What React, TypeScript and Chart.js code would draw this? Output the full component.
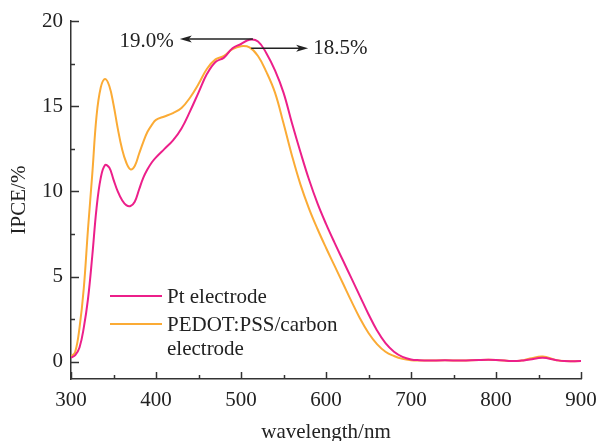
import React, { useEffect, useRef } from 'react';
import { Chart, registerables } from 'chart.js';

Chart.register(...registerables);

const wavelengths = [300, 305, 310, 315, 320, 325, 330, 335, 340, 345, 350, 355, 360, 365, 370, 375, 380, 385, 390, 395, 400, 410, 420, 430, 440, 450, 460, 470, 480, 490, 500, 510, 520, 530, 540, 550, 560, 570, 580, 590, 600, 610, 620, 630, 640, 650, 660, 670, 680, 690, 700, 710, 720, 740, 760, 780, 800, 820, 830, 840, 855, 870, 880, 900];

const ptValues = [0.25, 0.4, 0.85, 2.0, 3.7, 6.2, 9.0, 10.8, 11.55, 11.4, 10.7, 10.0, 9.5, 9.2, 9.15, 9.4, 10.1, 10.8, 11.3, 11.7, 12.0, 12.5, 13.0, 13.7, 14.7, 15.8, 16.9, 17.6, 17.85, 18.4, 18.65, 18.9, 18.8, 18.1, 17.1, 15.8, 14.0, 12.3, 10.7, 9.3, 8.1, 7.0, 5.95, 4.9, 3.85, 2.8, 1.85, 1.1, 0.6, 0.3, 0.15, 0.1, 0.08, 0.1, 0.08, 0.12, 0.12, 0.05, 0.08, 0.15, 0.24, 0.12, 0.05, 0.05];

const pedotValues = [0.3, 0.6, 2.0, 4.3, 7.8, 11.0, 14.4, 16.1, 16.6, 16.2, 15.1, 13.7, 12.5, 11.7, 11.3, 11.5, 12.2, 12.9, 13.5, 13.9, 14.2, 14.4, 14.6, 14.9, 15.5, 16.3, 17.2, 17.75, 17.95, 18.35, 18.52, 18.45, 17.95, 17.0, 15.8, 14.0, 12.1, 10.4, 9.0, 7.8, 6.7, 5.65, 4.6, 3.55, 2.55, 1.7, 1.05, 0.6, 0.35, 0.18, 0.1, 0.08, 0.08, 0.1, 0.08, 0.12, 0.12, 0.05, 0.08, 0.2, 0.32, 0.12, 0.05, 0.05];

const seriesLabels = ['Pt electrode', 'PEDOT:PSS/carbon'];
const seriesLabelExtra = ['', 'electrode'];
const seriesColors = ['#ec1f8a', '#fbab35'];

const xTicks = [300, 400, 500, 600, 700, 800, 900];
const xMinorTicks = [350, 450, 550, 650, 750, 850];
const yTicks = [0, 5, 10, 15, 20];
const yMinorTicks = [2.5, 7.5, 12.5, 17.5];

const peakLabels = ['19.0%', '18.5%'];
const arrowFromX = [514, 512];
const arrowToX = [428, 579];
const arrowY = [18.95, 18.4];

const FONT = '"Liberation Serif", "Times New Roman", serif';
const TEXT = '#222222';
const AXIS = '#333333';

const overlayPlugin = {
  id: 'overlay',
  afterDraw(chart: any) {
    const ctx = chart.ctx;
    const xs = chart.scales.x;
    const ys = chart.scales.y;
    const { left, bottom } = chart.chartArea;
    ctx.save();
    ctx.strokeStyle = AXIS;
    ctx.lineWidth = 1.5;
    yTicks.forEach((v) => {
      const p = Math.round(ys.getPixelForValue(v)) + 0.5;
      ctx.beginPath(); ctx.moveTo(left, p); ctx.lineTo(left + 8, p); ctx.stroke();
    });
    yMinorTicks.forEach((v) => {
      const p = Math.round(ys.getPixelForValue(v)) + 0.5;
      ctx.beginPath(); ctx.moveTo(left, p); ctx.lineTo(left + 4, p); ctx.stroke();
    });
    xTicks.forEach((v) => {
      const p = Math.round(xs.getPixelForValue(v)) + 0.5;
      ctx.beginPath(); ctx.moveTo(p, bottom); ctx.lineTo(p, bottom - 7); ctx.stroke();
    });
    xMinorTicks.forEach((v) => {
      const p = Math.round(xs.getPixelForValue(v)) + 0.5;
      ctx.beginPath(); ctx.moveTo(p, bottom); ctx.lineTo(p, bottom - 4); ctx.stroke();
    });

    ctx.font = `21px ${FONT}`;
    ctx.fillStyle = TEXT;
    ctx.textAlign = 'left';
    ctx.textBaseline = 'alphabetic';
    const legendLineY = [296, 324];
    const legendBase = [303, 331];
    seriesLabels.forEach((lab, i) => {
      ctx.strokeStyle = seriesColors[i];
      ctx.lineWidth = 2;
      ctx.beginPath(); ctx.moveTo(110, legendLineY[i]); ctx.lineTo(162, legendLineY[i]); ctx.stroke();
      ctx.fillText(lab, 167, legendBase[i]);
      if (seriesLabelExtra[i]) ctx.fillText(seriesLabelExtra[i], 167, legendBase[i] + 24);
    });

    ctx.strokeStyle = '#222';
    ctx.lineWidth = 1.5;
    peakLabels.forEach((lab, i) => {
      const x1 = xs.getPixelForValue(arrowFromX[i]);
      const x2 = xs.getPixelForValue(arrowToX[i]);
      const y = ys.getPixelForValue(arrowY[i]);
      const dir = x2 > x1 ? 1 : -1;
      ctx.fillStyle = '#222';
      ctx.beginPath(); ctx.moveTo(x1, y); ctx.lineTo(x2 - dir * 8, y); ctx.stroke();
      ctx.beginPath();
      ctx.moveTo(x2, y);
      ctx.lineTo(x2 - dir * 12, y - 3.5);
      ctx.lineTo(x2 - dir * 9, y);
      ctx.lineTo(x2 - dir * 12, y + 3.5);
      ctx.closePath();
      ctx.fill();
      ctx.font = `21px ${FONT}`;
      ctx.fillStyle = TEXT;
      if (dir < 0) {
        ctx.textAlign = 'right';
        ctx.fillText(lab, x2 - 6, y + 8);
      } else {
        ctx.textAlign = 'left';
        ctx.fillText(lab, x2 + 5, y + 6);
      }
    });
    ctx.restore();
  },
};

export default function App() {
  const ref = useRef<HTMLCanvasElement | null>(null);
  useEffect(() => {
    document.body.style.margin = '0';
    if (!ref.current) return;
    const chart = new Chart(ref.current, {
      type: 'line',
      data: {
        datasets: [
          {
            label: seriesLabels[0],
            data: wavelengths.map((w, i) => ({ x: w, y: ptValues[i] })),
            borderColor: seriesColors[0],
            borderWidth: 2,
            pointRadius: 0,
            tension: 0.4,
            fill: false,
          },
          {
            label: seriesLabels[1],
            data: wavelengths.map((w, i) => ({ x: w, y: pedotValues[i] })),
            borderColor: seriesColors[1],
            borderWidth: 2,
            pointRadius: 0,
            tension: 0.4,
            fill: false,
          },
        ],
      },
      options: {
        animation: false,
        responsive: false,
        devicePixelRatio: 1,
        layout: { padding: { top: 21, right: 17, left: 0, bottom: 0 } },
        plugins: { legend: { display: false }, tooltip: { enabled: false } },
        scales: {
          x: {
            type: 'linear',
            min: 300,
            max: 900,
            grid: { display: false, drawTicks: false },
            border: { display: true, color: AXIS, width: 1.5 },
            ticks: { font: { family: FONT, size: 21 }, color: TEXT, padding: 9, maxRotation: 0, autoSkip: false },
            afterBuildTicks: (s: any) => { s.ticks = xTicks.map((v) => ({ value: v })); },
            afterFit: (s: any) => { s.height = 62; s.paddingLeft = 0; s.paddingRight = 0; },
            title: { display: true, text: 'wavelength/nm', font: { family: FONT, size: 21, lineHeight: 0.8 }, color: TEXT, padding: { top: 0, bottom: 0 } },
          },
          y: {
            type: 'linear',
            min: -1,
            max: 20,
            grid: { display: false, drawTicks: false },
            border: { display: true, color: AXIS, width: 1.5 },
            ticks: { font: { family: FONT, size: 21 }, color: TEXT, padding: 8, autoSkip: false },
            afterBuildTicks: (s: any) => { s.ticks = yTicks.map((v) => ({ value: v })); },
            afterFit: (s: any) => { s.width = 71; s.paddingTop = 0; s.paddingBottom = 0; },
            title: { display: true, text: 'IPCE/%', font: { family: FONT, size: 21, lineHeight: 1 }, color: TEXT, padding: { top: 9, bottom: 0 } },
          },
        },
      },
      plugins: [overlayPlugin],
    } as any);
    return () => chart.destroy();
  }, []);
  return (
    <div style={{ width: 598, height: 441, background: '#fff' }}>
      <canvas ref={ref} width={598} height={441} style={{ display: 'block' }} />
    </div>
  );
}
